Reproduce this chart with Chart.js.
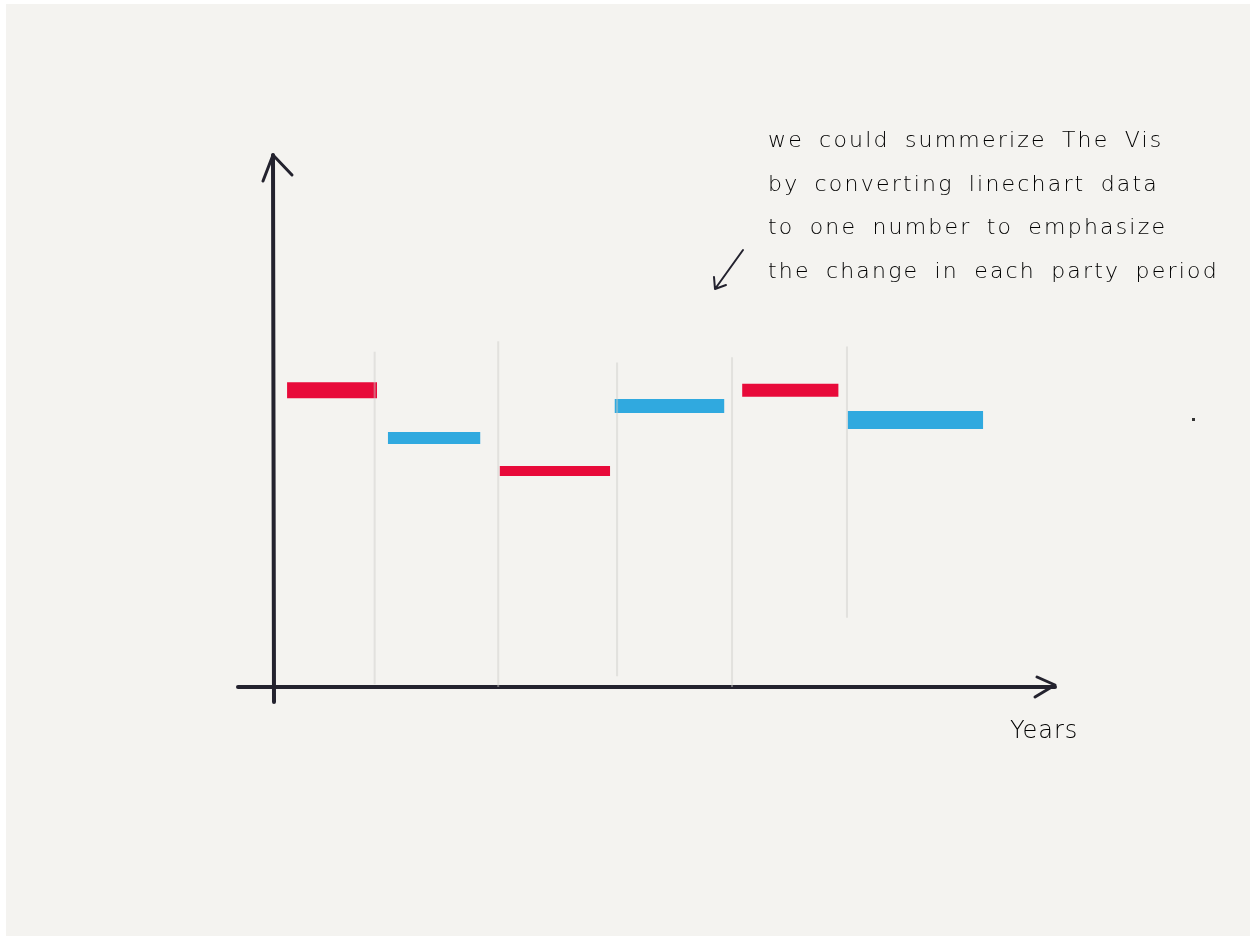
<!DOCTYPE html>
<html>
<head>
<meta charset="utf-8">
<script src="https://cdn.jsdelivr.net/npm/chart.js@4/dist/chart.umd.min.js"></script>
<style>
  body { margin: 0; background: #ffffff; }
  #paper { position: absolute; left: 6px; top: 4px; width: 1244px; height: 932px; background: #f4f3f0; }
  #myChart { position: absolute; left: 0; top: 0; }
  .note { position: absolute; font-family: "DejaVu Sans", sans-serif; font-weight: 300; color: #000000; white-space: nowrap; }
  #note { left: 768px; top: 118px; font-size: 22px; line-height: 43.5px; letter-spacing: 2.2px; word-spacing: 6px; }
  #years { left: 1010px; top: 716px; font-size: 24px; letter-spacing: 1px; }
</style>
</head>
<body>
<div id="paper"></div>
<canvas id="myChart" width="1253" height="936"></canvas>
<div class="note" id="note">
  we could summerize The Vis<br>
  by converting linechart data<br>
  to one number to emphasize<br>
  the change in each party period
</div>
<div class="note" id="years">Years</div>

<script>
// one flat segment per party period (x in arbitrary year units, y = summary value)
var parties = ['R', 'D', 'R', 'D', 'R', 'D'];
var startX = [1.8, 14.7, 29.0, 43.7, 60.0, 73.5];
var endX   = [13.3, 26.5, 43.1, 57.7, 72.3, 90.8];
var values = [55.8, 46.8, 40.6, 52.8, 55.8, 50.2];

// faint period dividers
var dividerX   = [13.0, 28.8, 44.0, 58.7, 73.4];
var dividerTop = [63, 65, 61, 62, 64];
var dividerBot = [0.5, -2.5, 2, -4, 13];

var partyColor = { R: '#e80a3a', D: '#30a9df' };
var strokeWidth = [16, 12, 10, 14, 13, 18];

function buildDatasets() {
  var sets = [];
  //dividers first so segments sit on top
  for (var i = 0; i < dividerX.length; i++) {
    sets.push({
      data: [{ x: dividerX[i], y: dividerBot[i] }, { x: dividerX[i], y: dividerTop[i] }],
      borderColor: 'rgba(205,205,200,0.45)',
      borderWidth: 2,
      pointRadius: 0
    });
  }
  for (var j = 0; j < values.length; j++) {
    sets.push({
      label: parties[j],
      data: [{ x: startX[j], y: values[j] }, { x: endX[j], y: values[j] }],
      borderColor: partyColor[parties[j]],
      borderWidth: strokeWidth[j],
      borderCapStyle: 'butt',
      pointRadius: 0
    });
  }
  return sets;
}

// hand drawn looking axes with arrow heads
var sketchAxes = {
  id: 'sketchAxes',
  beforeDatasetsDraw: function (chart) {
    var ctx = chart.ctx;
    var a = chart.chartArea;
    ctx.save();
    ctx.strokeStyle = '#23222e';
    ctx.lineCap = 'round';
    ctx.lineJoin = 'round';
    ctx.lineWidth = 4;
    // y axis
    ctx.beginPath();
    ctx.moveTo(a.left, a.top);
    ctx.lineTo(a.left + 1, a.bottom + 15);
    ctx.stroke();
    // x axis
    ctx.beginPath();
    ctx.moveTo(a.left - 35, a.bottom);
    ctx.lineTo(a.right, a.bottom);
    ctx.stroke();
    ctx.lineWidth = 3;
    // y arrow head
    ctx.beginPath();
    ctx.moveTo(a.left - 10, a.top + 26);
    ctx.lineTo(a.left, a.top);
    ctx.lineTo(a.left + 19, a.top + 20);
    ctx.stroke();
    // x arrow head
    ctx.beginPath();
    ctx.moveTo(a.right - 18, a.bottom - 10);
    ctx.lineTo(a.right, a.bottom - 2);
    ctx.lineTo(a.right - 20, a.bottom + 10);
    ctx.stroke();
    // little pointer from the note to the chart
    ctx.lineWidth = 2;
    ctx.beginPath();
    ctx.moveTo(743, 250);
    ctx.lineTo(715, 289);
    ctx.moveTo(714, 277);
    ctx.lineTo(715, 289);
    ctx.lineTo(726, 285);
    ctx.stroke();
    // stray dot
    ctx.fillStyle = '#333';
    ctx.fillRect(1192, 418, 3, 3);
    ctx.restore();
  }
};

var grapharea = document.getElementById('myChart');
const myChart = new Chart(grapharea, {
  type: 'line',
  data: { datasets: buildDatasets() },
  options: {
    responsive: false,
    animation: false,
    layout: { padding: { left: 273, right: 198, top: 155, bottom: 249 } },
    plugins: { legend: { display: false }, tooltip: { enabled: false } },
    scales: {
      x: { type: 'linear', min: 0, max: 100, display: false },
      y: { type: 'linear', min: 0, max: 100, display: false }
    }
  },
  plugins: [sketchAxes]
});
</script>
</body>
</html>
